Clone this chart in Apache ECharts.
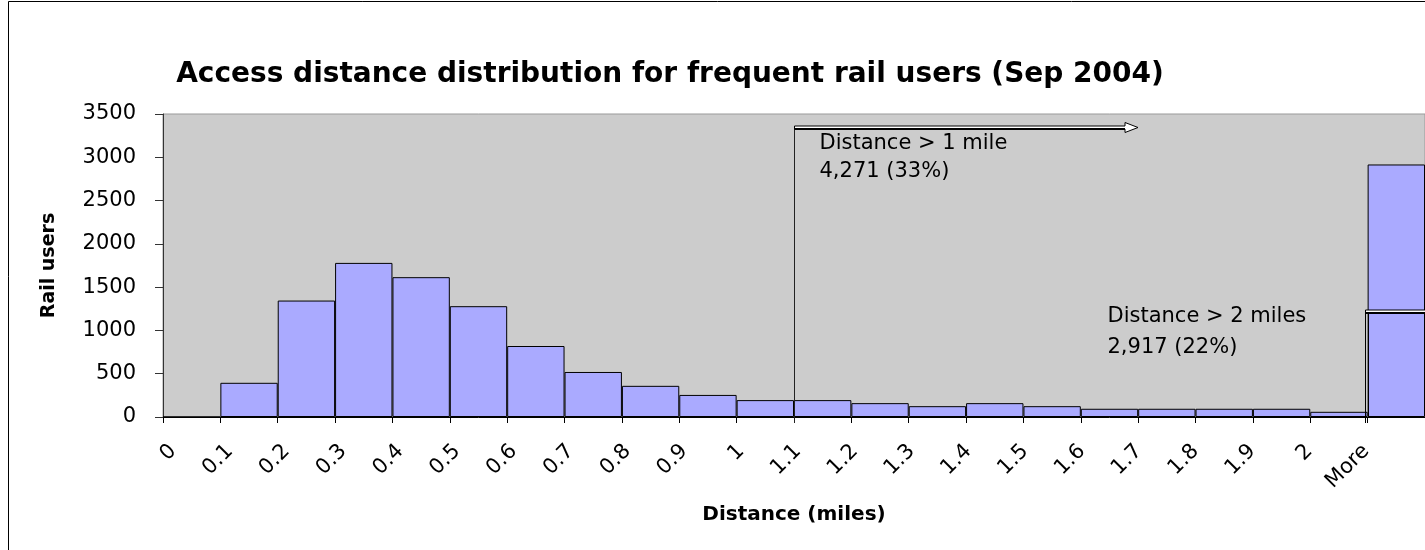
<!DOCTYPE html>
<html>
<head>
<meta charset="utf-8">
<title>Access distance distribution</title>
<script src="https://cdn.jsdelivr.net/npm/echarts@6/dist/echarts.min.js"></script>
<style>
  html, body { margin: 0; padding: 0; background: #fff; }
  #main { width: 1425px; height: 550px; }
</style>
</head>
<body>
<div id="main"></div>
<script>
// histogram bins, labelled by their left edge like the sheet shows them
var binLabels = ["0", "0.1", "0.2", "0.3", "0.4", "0.5", "0.6", "0.7", "0.8", "0.9", "1",
  "1.1", "1.2", "1.3", "1.4", "1.5", "1.6", "1.7", "1.8", "1.9", "2", "More"];
var railUsers = [0, 395, 1345, 1780, 1615, 1280, 820, 520, 360, 255, 195,
  195, 160, 125, 160, 125, 95, 95, 95, 95, 60, 2917];
var yMin = 0, yMax = 3500, yStep = 500;

var note1 = ["Distance > 1 mile", "4,271 (33%)"];
var note2 = ["Distance > 2 miles", "2,917 (22%)"];

var FONT = "DejaVu Sans";
var chart = echarts.init(document.getElementById("main"));

var option = {
  animation: false,
  title: {
    text: "Access distance distribution for frequent rail users (Sep 2004)",
    left: 670,
    top: 61,
    padding: 0,
    textAlign: "center",
    textStyle: { fontFamily: FONT, fontWeight: "bold", fontSize: 28, color: "#000" }
  },
  grid: [
    {
      left: 163, top: 114, width: 1264, height: 303,
      show: true, backgroundColor: "#cccccc", borderColor: "#999", borderWidth: 1
    },
    // second grid only carries the tick labels, nudged right like the original
    { left: 173, top: 114, width: 1264, height: 303, show: false }
  ],
  xAxis: [
    {
      type: "category",
      gridIndex: 0,
      data: binLabels,
      boundaryGap: true,
      name: "Distance (miles)",
      nameLocation: "middle",
      nameGap: 88,
      nameTextStyle: { fontFamily: FONT, fontWeight: "bold", fontSize: 20, color: "#000" },
      axisLine: { lineStyle: { color: "#000", width: 1 } },
      axisTick: { show: true, length: 6, lineStyle: { color: "#000" } },
      axisLabel: { show: false },
      splitLine: { show: false }
    },
    {
      type: "category",
      gridIndex: 1,
      data: binLabels.concat([""]),
      boundaryGap: false,
      axisLine: { show: false },
      axisTick: { show: false },
      splitLine: { show: false },
      axisLabel: {
        interval: 0,
        rotate: 45,
        margin: 31,
        fontFamily: FONT,
        fontSize: 21,
        color: "#000"
      }
    }
  ],
  yAxis: [
    {
      type: "value",
      gridIndex: 0,
      min: yMin,
      max: yMax,
      interval: yStep,
      name: "Rail users",
      nameLocation: "middle",
      nameRotate: 90,
      nameGap: 104,
      nameTextStyle: { fontFamily: FONT, fontWeight: "bold", fontSize: 19, color: "#000" },
      axisLine: { show: true, lineStyle: { color: "#333" } },
      axisTick: { show: true, length: 8, lineStyle: { color: "#333" } },
      axisLabel: {
        margin: 27, fontFamily: FONT, fontSize: 21, color: "#000",
        formatter: function (v) { return String(v); }
      },
      splitLine: { show: false }
    },
    { type: "value", gridIndex: 1, min: 0, max: 1, show: false }
  ],
  series: [
    {
      type: "bar",
      xAxisIndex: 0,
      yAxisIndex: 0,
      data: railUsers,
      barCategoryGap: "0%",
      itemStyle: { color: "#aaaaff", borderColor: "#000", borderWidth: 1 }
    }
  ]
};
chart.setOption(option);

// annotations placed from the axes
function edgeX(i) {
  var c0 = chart.convertToPixel({ xAxisIndex: 0 }, binLabels[0]);
  var c1 = chart.convertToPixel({ xAxisIndex: 0 }, binLabels[1]);
  var c = chart.convertToPixel({ xAxisIndex: 0 }, binLabels[i]);
  return c - (c1 - c0) / 2;
}
function yPx(v) {
  return chart.convertToPixel({ yAxisIndex: 0 }, v);
}

function blockArrow(x0, x1, y, head) {
  var pts = [[x0, y - 1.5], [x1 - 13, y - 1.5]];
  if (head) {
    pts.push([x1 - 13, y - 5], [x1, y], [x1 - 13, y + 5]);
  }
  pts.push([x1 - 13, y + 1.5], [x0, y + 1.5]);
  return [
    { type: "polygon", shape: { points: pts }, style: { fill: "#fff", stroke: "#000", lineWidth: 1 }, z: 20 },
    { type: "line", shape: { x1: x0, y1: y + 1.5, x2: x1 - 13, y2: y + 1.5 }, style: { stroke: "#000", lineWidth: 2 }, z: 21 }
  ];
}

function label(txt, x, y) {
  return {
    type: "text", z: 20,
    style: { text: txt, x: x, y: y, fill: "#000", fontFamily: FONT, fontSize: 21, align: "left", verticalAlign: "middle" }
  };
}

var base = Math.round(yPx(0));
var ax1 = Math.round(edgeX(11)) + 0.5;
var tip1 = Math.round(edgeX(17));
var ay1 = Math.round(yPx(3345)) + 0.5;
var ax2 = Math.round(edgeX(21)) + 0.5;
var ay2 = Math.round(yPx(1225)) + 0.5;

var els = [
  // chart frame
  { type: "rect", silent: true, z: -10, shape: { x: 8.5, y: 1.5, width: 1500, height: 600 }, style: { fill: "none", stroke: "#000", lineWidth: 1 } },
  { type: "line", z: 20, shape: { x1: ax1, y1: ay1, x2: ax1, y2: base + 6 }, style: { stroke: "#222", lineWidth: 1 } },
  { type: "line", z: 20, shape: { x1: ax2 - 3, y1: ay2 - 1.5, x2: ax2 - 3, y2: base + 6 }, style: { stroke: "#000", lineWidth: 1 } },
  { type: "line", z: 20, shape: { x1: ax2, y1: ay2 - 1.5, x2: ax2, y2: base }, style: { stroke: "#000", lineWidth: 1 } },
  label(note1[0], ax1 + 25, 144),
  label(note1[1], ax1 + 25, 172),
  label(note2[0], ax2 - 261, 317),
  label(note2[1], ax2 - 261, 348)
];
els = els.concat(blockArrow(ax1, tip1, ay1, true));
els = els.concat(blockArrow(ax2 - 3, 1450, ay2, false));

chart.setOption({ graphic: { elements: els } });
</script>
</body>
</html>
